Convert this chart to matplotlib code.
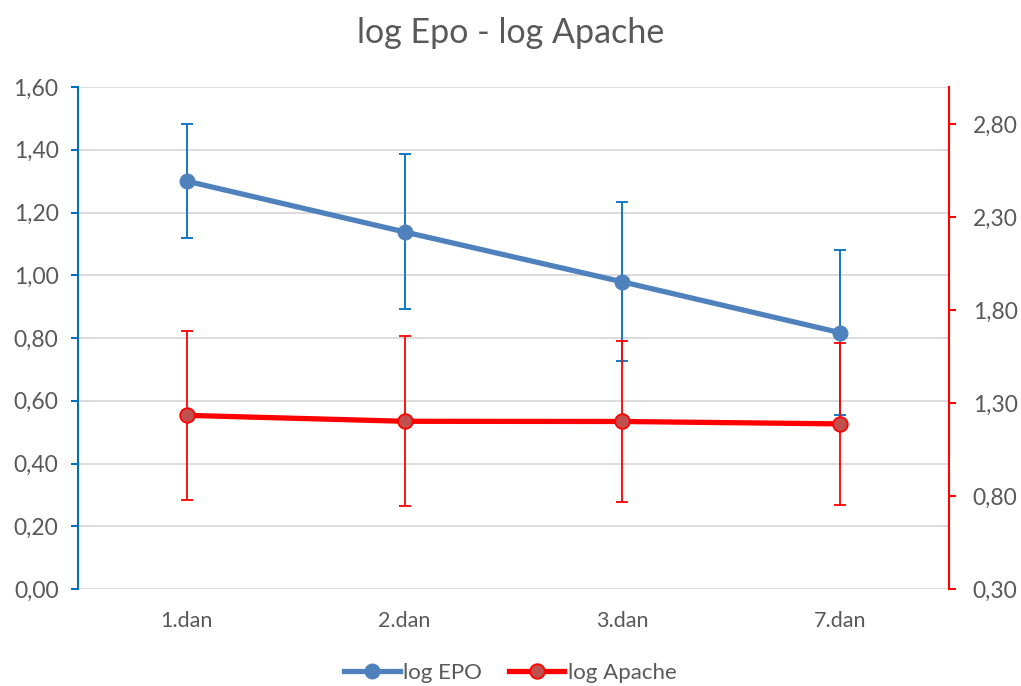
import matplotlib
matplotlib.use("Agg")
import matplotlib.pyplot as plt
from matplotlib.ticker import FuncFormatter, FixedLocator

categories = ["1.dan", "2.dan", "3.dan", "7.dan"]
epo = [1.30, 1.138, 0.979, 0.817]
epo_err = [0.182, 0.247, 0.253, 0.264]
apache = [1.234, 1.202, 1.201, 1.188]
apache_err = [0.455, 0.458, 0.434, 0.435]
left_ticks = [0.0, 0.2, 0.4, 0.6, 0.8, 1.0, 1.2, 1.4, 1.6]
right_ticks = [0.3, 0.8, 1.3, 1.8, 2.3, 2.8]

plt.rcParams['font.family'] = ['Lato', 'DejaVu Sans']
txt = '#595959'

fig = plt.figure(figsize=(10.21, 6.86), dpi=100)
ax = fig.add_axes([78/1021, 1-589/686, (949-78)/1021, (589-87)/686])
ax2 = ax.twinx()

x = list(range(len(categories)))

ax.errorbar(x, epo, yerr=epo_err, fmt='none', ecolor='#0070C0', elinewidth=1.3,
            capsize=4.2, capthick=1.3, zorder=2)
ax.plot(x, epo, color='#4F81BD', lw=3.8, marker='o', ms=10.5, mfc='#4F81BD',
        mec='#4F81BD', zorder=3, label='log EPO')

ax2.errorbar(x, apache, yerr=apache_err, fmt='none', ecolor='#FF0000', elinewidth=1.3,
             capsize=4.2, capthick=1.3, zorder=2)
ax2.plot(x, apache, color='#FF0000', lw=3.8, marker='o', ms=10.5, mfc='#C0504D',
         mec='#FF0000', mew=1.3, zorder=3, label='log Apache')

ax.set_xlim(-0.5, 3.5)
ax.set_ylim(0, 1.6)
ax2.set_ylim(0.3, 3.0)
ax.set_xticks(x)
ax.set_xticklabels(categories)
ax.yaxis.set_major_locator(FixedLocator(left_ticks))
ax2.yaxis.set_major_locator(FixedLocator(right_ticks))
fmt = FuncFormatter(lambda v, p: f"{v:.2f}".replace('.', ','))
ax.yaxis.set_major_formatter(fmt)
ax2.yaxis.set_major_formatter(fmt)

ax.grid(axis='y', color='#D9D9D9', lw=1.3)
ax.set_axisbelow(True)

for a in (ax, ax2):
    a.spines['top'].set_visible(False)
    a.spines['bottom'].set_visible(False)
ax.spines['right'].set_visible(False)
ax2.spines['left'].set_visible(False)
ax.spines['left'].set_color('#0070C0')
ax.spines['left'].set_linewidth(1.5)
ax2.spines['right'].set_color('#FF0000')
ax2.spines['right'].set_linewidth(1.5)

ax.tick_params(axis='x', length=0, labelsize=15.5, colors=txt, pad=16)
ax.tick_params(axis='y', direction='out', length=5, width=1.5, color='#0070C0',
               labelcolor=txt, labelsize=16.5, pad=9)
ax2.tick_params(axis='y', direction='out', length=5, width=1.5, color='#FF0000',
                labelcolor=txt, labelsize=16.5, pad=12)

fig.text(0.5, 1-33/686, 'log Epo - log Apache', ha='center', va='center',
         fontsize=24.5, color=txt)

h1, l1 = ax.get_legend_handles_labels()
h2, l2 = ax2.get_legend_handles_labels()
fig.legend(h1 + h2, l1 + l2, loc='center', bbox_to_anchor=(0.5, 1-673/686),
           ncol=2, frameon=False, fontsize=16, labelcolor=txt,
           handlelength=2.5, handletextpad=0.15, columnspacing=1.2)

fig.savefig('out.png', dpi=100)
